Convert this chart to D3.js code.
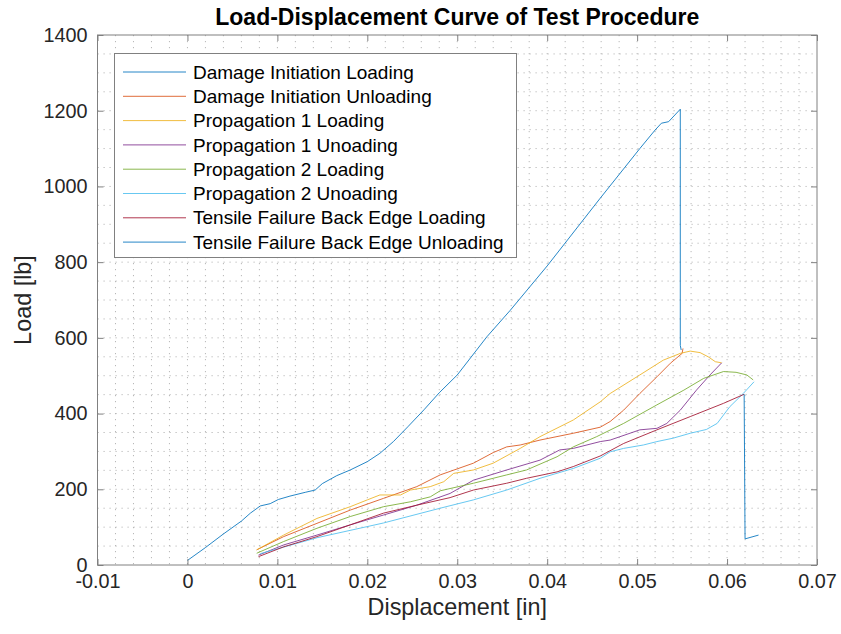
<!DOCTYPE html>
<html>
<head>
<meta charset="utf-8">
<script src="https://cdn.jsdelivr.net/npm/d3@7"></script>
<style>
  html, body { margin: 0; padding: 0; background: #fff; }
  svg { display: block; font-family: "Liberation Sans", Arial, Helvetica, sans-serif; }
</style>
</head>
<body>
<svg id="chart" width="841" height="634"></svg>
<script>
// Load-displacement test records: displacement [in], load [lb]
const damageInitLoadX = [0, 0.002, 0.004, 0.006, 0.007, 0.0081, 0.0092, 0.0101, 0.0114, 0.0131, 0.0142, 0.015, 0.0166, 0.0181, 0.02, 0.0214, 0.0229, 0.0245, 0.0263, 0.028, 0.03, 0.0333, 0.0359, 0.04, 0.0459, 0.0503, 0.052, 0.0527, 0.0535, 0.0548, 0.0548, 0.0549];
const damageInitLoadY = [12, 46, 82, 116, 137, 156, 162, 173, 182, 192, 198, 215, 236, 251, 273, 295, 326, 365, 410, 455, 502, 603, 673, 790, 969, 1100, 1149, 1167, 1171, 1204, 580, 568];

const damageInitUnloadX = [0.0077, 0.0107, 0.0144, 0.0181, 0.0218, 0.0255, 0.0281, 0.0318, 0.034, 0.0355, 0.037, 0.0392, 0.0429, 0.0459, 0.047, 0.0485, 0.0503, 0.0522, 0.0537, 0.055, 0.0551];
const damageInitUnloadY = [40, 75, 110, 145, 176, 207, 238, 269, 297, 312, 317, 330, 348, 364, 379, 409, 453, 497, 533, 559, 572];

const prop1LoadX = [0.0077, 0.0107, 0.0144, 0.0181, 0.02, 0.0214, 0.0237, 0.0248, 0.027, 0.0285, 0.0296, 0.0318, 0.034, 0.037, 0.0392, 0.0429, 0.0459, 0.047, 0.0503, 0.0529, 0.0548, 0.0559, 0.057, 0.0579, 0.0587, 0.0594];
const prop1LoadY = [40, 79, 123, 154, 172, 185, 185, 198, 207, 220, 242, 251, 269, 308, 339, 383, 431, 453, 502, 541, 559, 565, 561, 550, 537, 534];

const prop1UnloadX = [0.0079, 0.0107, 0.0144, 0.0181, 0.0218, 0.0255, 0.0292, 0.0318, 0.0355, 0.0392, 0.0414, 0.0429, 0.0459, 0.047, 0.0503, 0.0522, 0.0533, 0.0548, 0.0566, 0.0581, 0.0594];
const prop1UnloadY = [26, 53, 79, 106, 132, 158, 189, 224, 251, 277, 304, 308, 326, 330, 357, 361, 374, 409, 462, 502, 534];

const prop2LoadX = [0.0077, 0.0107, 0.0144, 0.0181, 0.0218, 0.0248, 0.027, 0.0281, 0.0318, 0.0355, 0.0377, 0.0411, 0.0429, 0.0455, 0.0485, 0.0522, 0.0552, 0.0574, 0.0596, 0.061, 0.0622, 0.0629];
const prop2LoadY = [31, 62, 97, 128, 154, 167, 180, 196, 216, 238, 251, 286, 312, 339, 374, 423, 462, 493, 511, 509, 502, 489];

const prop2UnloadX = [0.0081, 0.0144, 0.0218, 0.0281, 0.0318, 0.0355, 0.0392, 0.0429, 0.0459, 0.047, 0.0485, 0.0507, 0.0522, 0.054, 0.0559, 0.0577, 0.0589, 0.0603, 0.0618, 0.063];
const prop2UnloadY = [30, 72, 111, 150, 172, 198, 229, 255, 282, 299, 308, 317, 326, 335, 348, 358, 374, 418, 453, 484];

const tensileLoadX = [0.0079, 0.0107, 0.0144, 0.0181, 0.0218, 0.0255, 0.0292, 0.0318, 0.0355, 0.0377, 0.0411, 0.0429, 0.0459, 0.0485, 0.0522, 0.0559, 0.0596, 0.0619];
const tensileLoadY = [22, 48, 75, 106, 137, 158, 178, 198, 216, 229, 246, 260, 288, 321, 357, 392, 427, 451];

const tensileUnloadX = [0.0619, 0.062, 0.0635];
const tensileUnloadY = [451, 69, 79];

const seriesNames = [
  "Damage Initiation Loading",
  "Damage Initiation Unloading",
  "Propagation 1 Loading",
  "Propagation 1 Unoading",
  "Propagation 2 Loading",
  "Propagation 2 Unoading",
  "Tensile Failure Back Edge Loading",
  "Tensile Failure Back Edge Unloading"
];
const seriesColors = ["#0072BD", "#D95319", "#EDB120", "#7E2F8E", "#77AC30", "#4DBEEE", "#A2142F", "#0072BD"];

const xTicks = [-0.01, 0, 0.01, 0.02, 0.03, 0.04, 0.05, 0.06, 0.07];
const yTicks = [0, 200, 400, 600, 800, 1000, 1200, 1400];

const titleText = "Load-Displacement Curve of Test Procedure";
const xLabel = "Displacement [in]";
const yLabel = "Load [lb]";

const seriesX = [damageInitLoadX, damageInitUnloadX, prop1LoadX, prop1UnloadX, prop2LoadX, prop2UnloadX, tensileLoadX, tensileUnloadX];
const seriesY = [damageInitLoadY, damageInitUnloadY, prop1LoadY, prop1UnloadY, prop2LoadY, prop2UnloadY, tensileLoadY, tensileUnloadY];

// Layout
const plot = { left: 97.5, right: 817, top: 35, bottom: 565 };
const svg = d3.select("#chart");

const x = d3.scaleLinear().domain([-0.01, 0.07]).range([plot.left, plot.right]);
const y = d3.scaleLinear().domain([0, 1400]).range([plot.bottom, plot.top]);

const axisColor = "#262626";
const boxColor = "#808080";

// Minor dotted grid
const gridG = svg.append("g");
const xMinor = d3.range(-0.01, 0.0701, 0.002).map(v => +v.toFixed(4));
const yMinor = d3.range(0, 1401, 50);
gridG.selectAll("line.gx").data(xMinor.filter(v => v > -0.01 && v < 0.07)).join("line")
  .attr("x1", d => x(d)).attr("x2", d => x(d))
  .attr("y1", plot.top).attr("y2", plot.bottom)
  .attr("stroke", "#b8b8b8").attr("stroke-width", 1).attr("stroke-dasharray", "1.2,4.8");
gridG.selectAll("line.gy").data(yMinor.filter(v => v > 0 && v < 1400)).join("line")
  .attr("x1", plot.left).attr("x2", plot.right)
  .attr("y1", d => y(d)).attr("y2", d => y(d))
  .attr("stroke", "#b8b8b8").attr("stroke-width", 1).attr("stroke-dasharray", "1.2,4.8");

// Data lines
const line = d3.line().x(d => x(d[0])).y(d => y(d[1]));
const linesG = svg.append("g");
seriesX.forEach((xs, i) => {
  const pts = xs.map((v, j) => [v, seriesY[i][j]]);
  linesG.append("path")
    .attr("d", line(pts))
    .attr("fill", "none")
    .attr("stroke", seriesColors[i])
    .attr("stroke-width", 1)
    .attr("stroke-opacity", 0.85)
    .attr("stroke-linejoin", "round");
});

// Axes box with inward ticks on all sides
const axG = svg.append("g");
const tickLen = 6;
const tickFont = 19.8;
const bottomAxis = d3.axisBottom(x).tickValues(xTicks).tickSize(-tickLen).tickPadding(9)
  .tickFormat(d => String(+d.toFixed(2)));
const leftAxis = d3.axisLeft(y).tickValues(yTicks).tickSize(-tickLen).tickPadding(10).tickFormat(d => String(d));
const topAxis = d3.axisTop(x).tickValues(xTicks).tickSize(-tickLen).tickFormat("");
const rightAxis = d3.axisRight(y).tickValues(yTicks).tickSize(-tickLen).tickFormat("");

function styleAxis(g) {
  g.select(".domain").remove();
  g.selectAll(".tick line").attr("stroke", boxColor).attr("stroke-width", 1);
  g.selectAll(".tick text").attr("fill", axisColor).attr("font-size", tickFont).attr("font-family", "Liberation Sans, Arial, sans-serif");
}
axG.append("g").attr("transform", `translate(0,${plot.bottom})`).call(bottomAxis).call(styleAxis);
axG.append("g").attr("transform", `translate(${plot.left},0)`).call(leftAxis).call(styleAxis);
axG.append("g").attr("transform", `translate(0,${plot.top})`).call(topAxis).call(styleAxis);
axG.append("g").attr("transform", `translate(${plot.right},0)`).call(rightAxis).call(styleAxis);

axG.append("rect")
  .attr("x", plot.left).attr("y", plot.top)
  .attr("width", plot.right - plot.left).attr("height", plot.bottom - plot.top)
  .attr("fill", "none").attr("stroke", boxColor).attr("stroke-width", 1);

// Title and axis labels
svg.append("text").attr("x", (plot.left + plot.right) / 2).attr("y", 25)
  .attr("text-anchor", "middle").attr("font-size", 23).attr("font-weight", "bold")
  .attr("fill", "#000").text(titleText);
svg.append("text").attr("x", (plot.left + plot.right) / 2).attr("y", 615)
  .attr("text-anchor", "middle").attr("font-size", 23.4).attr("fill", axisColor).text(xLabel);
svg.append("text").attr("transform", `translate(31,${(plot.top + plot.bottom) / 2}) rotate(-90)`)
  .attr("text-anchor", "middle").attr("font-size", 23.4).attr("fill", axisColor).text(yLabel);

// Legend
const lg = svg.append("g");
const lgBox = { x: 114.5, y: 53.5, w: 402, h: 204 };
lg.append("rect").attr("x", lgBox.x).attr("y", lgBox.y).attr("width", lgBox.w).attr("height", lgBox.h)
  .attr("fill", "#fff").attr("stroke", boxColor).attr("stroke-width", 1);
seriesNames.forEach((name, i) => {
  const cy = 72 + i * 24.3;
  lg.append("line").attr("x1", 123).attr("x2", 186).attr("y1", cy).attr("y2", cy)
    .attr("stroke", seriesColors[i]).attr("stroke-width", 1).attr("stroke-opacity", 0.85);
  lg.append("text").attr("x", 193).attr("y", cy).attr("dy", "0.35em")
    .attr("font-size", 19).attr("fill", "#000").text(name);
});
</script>
</body>
</html>
